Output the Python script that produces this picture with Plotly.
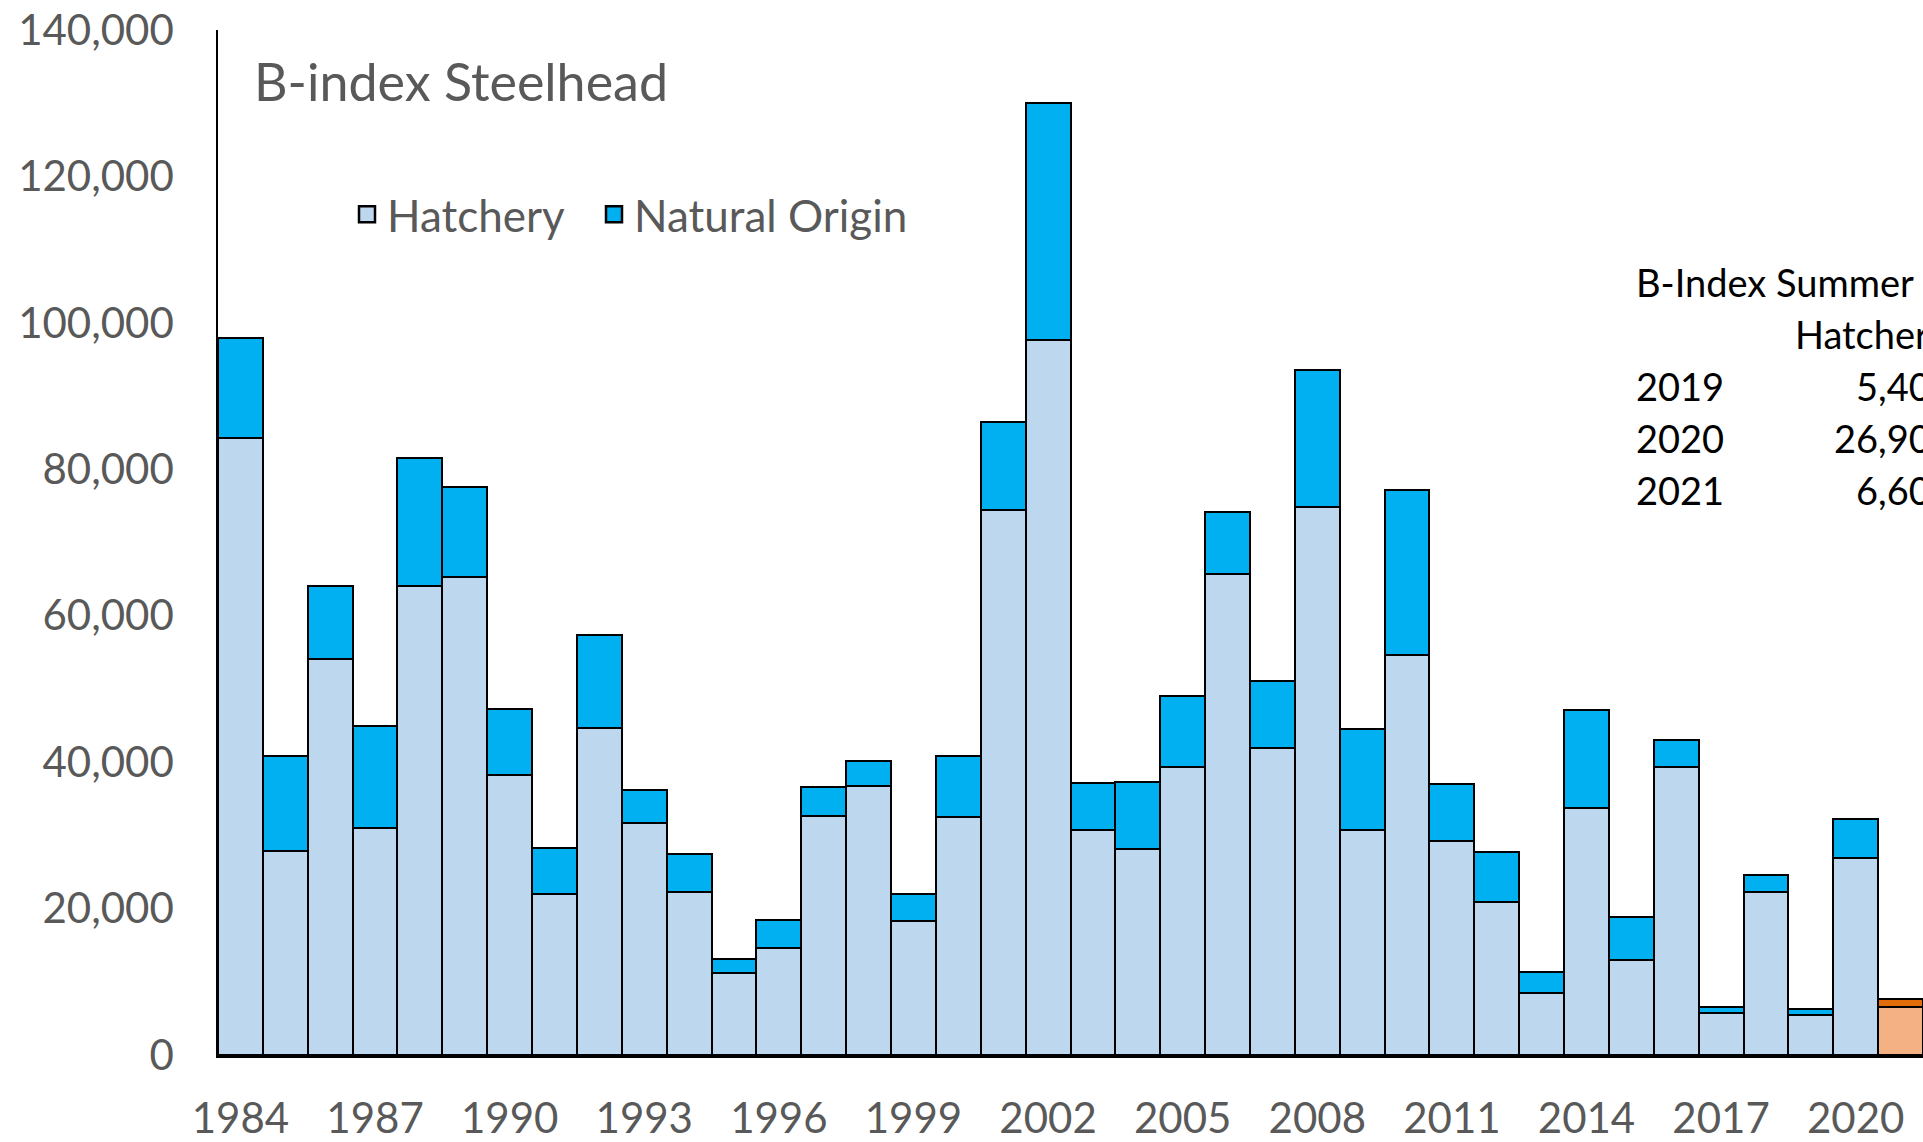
import plotly.graph_objects as go

# ---- data ----
years = [1984, 1985, 1986, 1987, 1988, 1989, 1990, 1991, 1992, 1993,
         1994, 1995, 1996, 1997, 1998, 1999, 2000, 2001, 2002, 2003,
         2004, 2005, 2006, 2007, 2008, 2009, 2010, 2011, 2012, 2013,
         2014, 2015, 2016, 2017, 2018, 2019, 2020, 2021]
hatchery = [84300, 27900, 54100, 31000, 64000, 65300, 38300, 22000, 44700, 31700,
            22200, 11200, 14600, 32700, 36800, 18300, 32500, 74400, 97600, 30800,
            28100, 39300, 65700, 42000, 74900, 30700, 54700, 29200, 20900, 8500,
            33700, 13000, 39300, 5800, 22200, 5400, 26900, 6600]
natural = [13700, 12900, 9900, 13900, 17600, 12300, 8900, 6300, 12700, 4500,
           5200, 1900, 3900, 3900, 3400, 3700, 8400, 12000, 32400, 6300,
           9200, 9700, 8400, 9100, 18600, 13800, 22500, 7800, 6800, 2900,
           13400, 5900, 3700, 800, 2400, 900, 5300, 1000]
highlight_year = 2021

tick_years = [1984, 1987, 1990, 1993, 1996, 1999, 2002, 2005, 2008, 2011, 2014, 2017, 2020]
y_ticks = [0, 20000, 40000, 60000, 80000, 100000, 120000, 140000]

table_title = "B-Index Summer"
table_col = "Hatchery"
table_years = [2019, 2020, 2021]
table_hatchery = [5400, 26900, 6600]

# ---- styles ----
C_HATCH, C_NAT = "#BDD7EE", "#00B0F0"
C_HATCH_HL, C_NAT_HL = "#F4B183", "#E36C0A"
GREY = "#595959"
FONT = "Lato"

W, H = 1923, 1142
L, R, T, B = 218, 0, 30, 80
pw, ph = W - L - R, H - T - B


def px_x(x):
    return (x - L) / pw


def px_y(y):
    return (H - B - y) / ph


hatch_colors = [C_HATCH_HL if yr == highlight_year else C_HATCH for yr in years]
nat_colors = [C_NAT_HL if yr == highlight_year else C_NAT for yr in years]

fig = go.Figure()
fig.add_trace(go.Bar(x=years, y=hatchery, name="Hatchery", legendgroup="h", showlegend=False,
                     marker=dict(color=hatch_colors, line=dict(color="black", width=2))))
fig.add_trace(go.Bar(x=years, y=natural, name="Natural Origin", legendgroup="n", showlegend=False,
                     marker=dict(color=nat_colors, line=dict(color="black", width=2))))
# legend entries (square swatches like the reference)
fig.add_trace(go.Scatter(x=[None], y=[None], mode="markers", name="Hatchery", legendgroup="h",
                         legend="legend",
                         marker=dict(symbol="square", size=16, color=C_HATCH,
                                     line=dict(color="black", width=2.5))))
fig.add_trace(go.Scatter(x=[None], y=[None], mode="markers", name="Natural Origin", legendgroup="n",
                         legend="legend2",
                         marker=dict(symbol="square", size=16, color=C_NAT,
                                     line=dict(color="black", width=2.5))))

leg_common = dict(orientation="h", xanchor="left", yanchor="middle",
                  font=dict(size=44, color=GREY, family=FONT), bgcolor="rgba(0,0,0,0)")

fig.update_layout(
    width=W, height=H,
    margin=dict(l=L, r=R, t=T, b=B, pad=0),
    barmode="stack", bargap=0,
    plot_bgcolor="white", paper_bgcolor="white",
    font=dict(family=FONT, color=GREY, size=42),
    showlegend=True,
    legend=dict(x=px_x(347), y=px_y(216), **leg_common),
    legend2=dict(x=px_x(594), y=px_y(216), **leg_common),
    xaxis=dict(range=[years[0] - 0.5, years[-1] + 0.5], tickvals=tick_years,
               ticktext=[str(t) for t in tick_years], showgrid=False, zeroline=False,
               showline=True, linecolor="black", linewidth=2.5,
               ticks="outside", ticklen=25, tickcolor="rgba(0,0,0,0)",
               tickfont=dict(size=42, color=GREY, family=FONT)),
    yaxis=dict(range=[0, 140000], tickvals=y_ticks, tickformat=",d",
               showgrid=False, zeroline=False, showline=True, linecolor="black", linewidth=1.5,
               ticks="outside", ticklen=34, tickcolor="rgba(0,0,0,0)",
               tickfont=dict(size=42, color=GREY, family=FONT)),
)

# chart title
fig.add_annotation(text="B-index Steelhead", xref="paper", yref="paper",
                   x=px_x(252), y=px_y(81), xanchor="left", yanchor="middle",
                   showarrow=False, font=dict(size=52, color=GREY, family=FONT))

# side table (cut off by the right edge, as in the reference)
tfont = dict(size=38, color="black", family=FONT)
row0, step = 284, 52.3
val_right = 1955
fig.add_annotation(text=table_title, xref="paper", yref="paper", x=px_x(1634), y=px_y(row0),
                   xanchor="left", yanchor="middle", showarrow=False, font=tfont)
fig.add_annotation(text=table_col, xref="paper", yref="paper", x=px_x(val_right - 4), y=px_y(row0 + step),
                   xanchor="right", yanchor="middle", showarrow=False, font=tfont)
for i, (yr, v) in enumerate(zip(table_years, table_hatchery)):
    yy = px_y(row0 + step * (i + 2))
    fig.add_annotation(text=str(yr), xref="paper", yref="paper", x=px_x(1634), y=yy,
                       xanchor="left", yanchor="middle", showarrow=False, font=tfont)
    fig.add_annotation(text=f"{v:,}", xref="paper", yref="paper", x=px_x(val_right), y=yy,
                       xanchor="right", yanchor="middle", showarrow=False, font=tfont)

fig.write_html("out.html", config={"displayModeBar": False},
               post_script="document.body.style.margin='0';document.body.style.overflow='hidden';")
